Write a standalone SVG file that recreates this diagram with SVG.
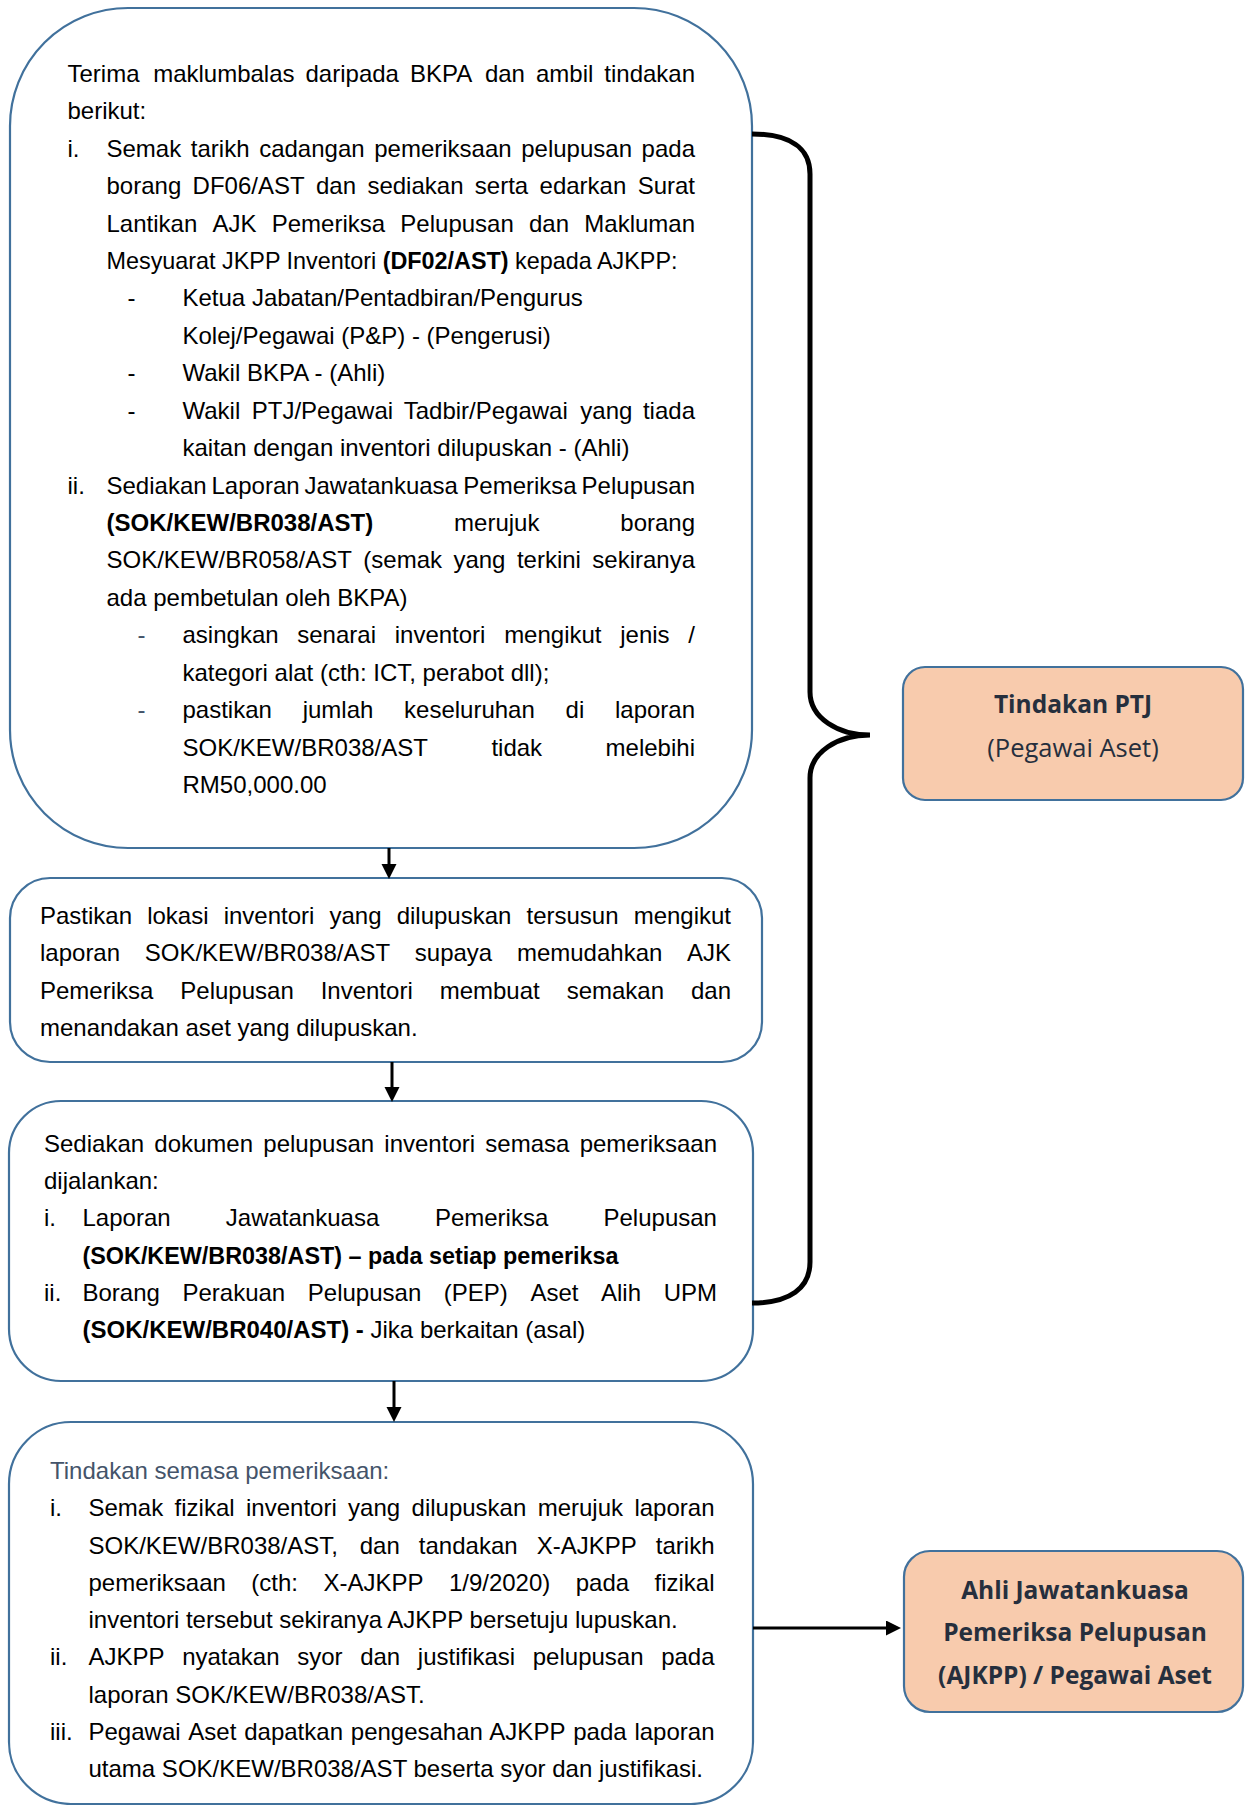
<svg xmlns="http://www.w3.org/2000/svg" width="1245" height="1805" viewBox="0 0 1245 1805">
<style>
.box{fill:#fff;stroke:#41719C;stroke-width:2.2}
.obox{fill:#F8CBAD;stroke:#41719C;stroke-width:2.2}
.t{font-family:"Liberation Sans",Arial,sans-serif;font-size:24px;fill:#000}
.b{font-weight:bold}
.sl{fill:#44546A}
.r{font-family:"Open Sans","Liberation Sans",sans-serif;font-size:25.5px;fill:#262F3D;text-anchor:middle}
.rb{font-family:"Open Sans","Liberation Sans",sans-serif;font-size:24.5px;font-weight:bold;fill:#262F3D;text-anchor:middle}
.con{stroke:#000;stroke-width:3;fill:none}
.brace{stroke:#000;stroke-width:5;fill:none}
</style>
<defs>
<marker id="ah" markerUnits="userSpaceOnUse" markerWidth="16" markerHeight="16" refX="7" refY="7.5" orient="auto"><path d="M0,0 L15,7.5 L0,15 z" fill="#000"/></marker>
</defs>

<g id="node-ptj-steps">
<rect class="box" x="10" y="8" width="742" height="840" rx="118" ry="118"/>
<text class="t" y="81.7"><tspan x="67.5">Terima</tspan><tspan x="153.16">maklumbalas</tspan><tspan x="305.52">daripada</tspan><tspan x="409.9">BKPA</tspan><tspan x="484.93">dan</tspan><tspan x="535.96">ambil</tspan><tspan x="604.3">tindakan</tspan></text>
<text class="t" x="67.5" y="119.1">berikut:</text>
<text class="t" y="156.6"><tspan x="67.5">i.</tspan><tspan x="106.5">Semak</tspan><tspan x="190.83">tarikh</tspan><tspan x="259.15">cadangan</tspan><tspan x="374.2">pemeriksaan</tspan><tspan x="521.22">pelupusan</tspan><tspan x="641.6">pada</tspan></text>
<text class="t" y="194"><tspan x="106.5">borang</tspan><tspan x="192.59">DF06/AST</tspan><tspan x="316">dan</tspan><tspan x="367.41">sediakan</tspan><tspan x="474.84">serta</tspan><tspan x="539.57">edarkan</tspan><tspan x="637.66">Surat</tspan></text>
<text class="t" y="231.5"><tspan x="106.5">Lantikan</tspan><tspan x="212.48">AJK</tspan><tspan x="271.76">Pemeriksa</tspan><tspan x="400.37">Pelupusan</tspan><tspan x="529.03">dan</tspan><tspan x="584.32">Makluman</tspan></text>
<text class="t" x="106.5" y="268.9" textLength="571" lengthAdjust="spacingAndGlyphs">Mesyuarat JKPP Inventori <tspan class="b">(DF02/AST)</tspan> kepada AJKPP:</text>
<text class="t" x="127.5" y="306.3">-</text>
<text class="t" x="182.5" y="306.3">Ketua Jabatan/Pentadbiran/Pengurus</text>
<text class="t" x="182.5" y="343.8">Kolej/Pegawai (P&amp;P) - (Pengerusi)</text>
<text class="t" x="127.5" y="381.2">-</text>
<text class="t" x="182.5" y="381.2">Wakil BKPA - (Ahli)</text>
<text class="t" x="127.5" y="418.7">-</text>
<text class="t" y="418.7"><tspan x="182.5">Wakil</tspan><tspan x="251.72">PTJ/Pegawai</tspan><tspan x="403.71">Tadbir/Pegawai</tspan><tspan x="580.37">yang</tspan><tspan x="642.96">tiada</tspan></text>
<text class="t" x="182.5" y="456.1">kaitan dengan inventori dilupuskan - (Ahli)</text>
<text class="t" y="493.5"><tspan x="67.5">ii.</tspan><tspan x="106.5">Sediakan</tspan><tspan x="211.5">Laporan</tspan><tspan x="304.5">Jawatankuasa</tspan><tspan x="463.33">Pemeriksa</tspan><tspan x="581.62">Pelupusan</tspan></text>
<text class="t" y="531"><tspan x="106.5" class="b">(SOK/KEW/BR038/AST)</tspan><tspan x="454.1">merujuk</tspan><tspan x="620.3">borang</tspan></text>
<text class="t" y="568.4"><tspan x="106.5">SOK/KEW/BR058/AST</tspan><tspan x="363.34">(semak</tspan><tspan x="453.43">yang</tspan><tspan x="516.88">terkini</tspan><tspan x="592.31">sekiranya</tspan></text>
<text class="t" x="106.5" y="605.9">ada pembetulan oleh BKPA)</text>
<text class="t sl" x="137.5" y="643.3">-</text>
<text class="t" y="643.3"><tspan x="182.5">asingkan</tspan><tspan x="297.28">senarai</tspan><tspan x="394.71">inventori</tspan><tspan x="504.14">mengikut</tspan><tspan x="620.24">jenis</tspan><tspan x="688.31">/</tspan></text>
<text class="t" x="182.5" y="680.7">kategori alat (cth: ICT, perabot dll);</text>
<text class="t sl" x="137.5" y="718.2">-</text>
<text class="t" y="718.2"><tspan x="182.5">pastikan</tspan><tspan x="302.63">jumlah</tspan><tspan x="404.06">keseluruhan</tspan><tspan x="565.54">di</tspan><tspan x="614.96">laporan</tspan></text>
<text class="t" y="755.6"><tspan x="182.5">SOK/KEW/BR038/AST</tspan><tspan x="491.4">tidak</tspan><tspan x="605.6">melebihi</tspan></text>
<text class="t" x="182.5" y="793.1">RM50,000.00</text>
</g>

<g id="node-lokasi">
<rect class="box" x="10" y="878" width="752" height="184" rx="40" ry="40"/>
<text class="t" y="924"><tspan x="40">Pastikan</tspan><tspan x="147.17">lokasi</tspan><tspan x="223.64">inventori</tspan><tspan x="329.47">yang</tspan><tspan x="396.63">dilupuskan</tspan><tspan x="526.48">tersusun</tspan><tspan x="633.65">mengikut</tspan></text>
<text class="t" y="961.3"><tspan x="40">laporan</tspan><tspan x="144.73">SOK/KEW/BR038/AST</tspan><tspan x="414.84">supaya</tspan><tspan x="516.91">memudahkan</tspan><tspan x="686.99">AJK</tspan></text>
<text class="t" y="998.6"><tspan x="40">Pemeriksa</tspan><tspan x="180.31">Pelupusan</tspan><tspan x="320.67">Inventori</tspan><tspan x="439.67">membuat</tspan><tspan x="566.66">semakan</tspan><tspan x="690.99">dan</tspan></text>
<text class="t" x="40" y="1036">menandakan aset yang dilupuskan.</text>
</g>

<g id="node-dokumen">
<rect class="box" x="9" y="1101" width="744" height="280" rx="52" ry="52"/>
<text class="t" y="1152"><tspan x="44">Sediakan</tspan><tspan x="154.34">dokumen</tspan><tspan x="263.33">pelupusan</tspan><tspan x="384.35">inventori</tspan><tspan x="485.33">semasa</tspan><tspan x="579.63">pemeriksaan</tspan></text>
<text class="t" x="44" y="1189">dijalankan:</text>
<text class="t" y="1226"><tspan x="44">i.</tspan><tspan x="82.5">Laporan</tspan><tspan x="225.8">Jawatankuasa</tspan><tspan x="434.9">Pemeriksa</tspan><tspan x="603.5">Pelupusan</tspan></text>
<text class="t b" x="82.5" y="1264" textLength="536" lengthAdjust="spacingAndGlyphs">(SOK/KEW/BR038/AST) – pada setiap pemeriksa</text>
<text class="t" y="1301"><tspan x="44">ii.</tspan><tspan x="82.5">Borang</tspan><tspan x="182.48">Perakuan</tspan><tspan x="307.8">Pelupusan</tspan><tspan x="443.8">(PEP)</tspan><tspan x="530.41">Aset</tspan><tspan x="601.03">Alih</tspan><tspan x="663.64">UPM</tspan></text>
<text class="t" x="82.5" y="1338"><tspan class="b">(SOK/KEW/BR040/AST) -</tspan> Jika berkaitan (asal)</text>
</g>

<g id="node-semasa">
<rect class="box" x="9" y="1422" width="744" height="382" rx="62" ry="62"/>
<text class="t sl" x="50" y="1479">Tindakan semasa pemeriksaan:</text>
<text class="t" y="1516"><tspan x="50">i.</tspan><tspan x="88.5">Semak</tspan><tspan x="174.6">fizikal</tspan><tspan x="246.01">inventori</tspan><tspan x="348.12">yang</tspan><tspan x="411.56">dilupuskan</tspan><tspan x="537.69">merujuk</tspan><tspan x="634.44">laporan</tspan></text>
<text class="t" y="1554"><tspan x="88.5">SOK/KEW/BR038/AST,</tspan><tspan x="359.7">dan</tspan><tspan x="418.83">tandakan</tspan><tspan x="536.67">X-AJKPP</tspan><tspan x="655.8">tarikh</tspan></text>
<text class="t" y="1591"><tspan x="88.5">pemeriksaan</tspan><tspan x="251.31">(cth:</tspan><tspan x="323.42">X-AJKPP</tspan><tspan x="448.88">1/9/2020)</tspan><tspan x="575.71">pada</tspan><tspan x="654.52">fizikal</tspan></text>
<text class="t" x="88.5" y="1628">inventori tersebut sekiranya AJKPP bersetuju lupuskan.</text>
<text class="t" y="1665"><tspan x="50">ii.</tspan><tspan x="88.5">AJKPP</tspan><tspan x="182.16">nyatakan</tspan><tspan x="297.18">syor</tspan><tspan x="360.15">dan</tspan><tspan x="417.81">justifikasi</tspan><tspan x="532.78">pelupusan</tspan><tspan x="661.15">pada</tspan></text>
<text class="t" x="88.5" y="1703">laporan SOK/KEW/BR038/AST.</text>
<text class="t" y="1740"><tspan x="50">iii.</tspan><tspan x="88.5">Pegawai</tspan><tspan x="188.37">Aset</tspan><tspan x="244.22">dapatkan</tspan><tspan x="350.79">pengesahan</tspan><tspan x="489.37">AJKPP</tspan><tspan x="573.23">pada</tspan><tspan x="634.44">laporan</tspan></text>
<text class="t" x="88.5" y="1777">utama SOK/KEW/BR038/AST beserta syor dan justifikasi.</text>
</g>

<g id="node-tindakan-ptj">
<rect class="obox" x="903" y="667" width="340" height="133" rx="22" ry="22"/>
<text class="rb" x="1073" y="713">Tindakan PTJ</text>
<text class="r" x="1073" y="757">(Pegawai Aset)</text>
</g>

<g id="node-ajkpp">
<rect class="obox" x="904" y="1551" width="339" height="161" rx="26" ry="26"/>
<text class="rb" x="1075" y="1599">Ahli Jawatankuasa</text>
<text class="rb" x="1075" y="1641">Pemeriksa Pelupusan</text>
<text class="rb" x="1075" y="1684">(AJKPP) / Pegawai Aset</text>
</g>

<g id="connectors">
<line class="con" x1="389" y1="848" x2="389" y2="871" marker-end="url(#ah)"/>
<line class="con" x1="392" y1="1062" x2="392" y2="1094" marker-end="url(#ah)"/>
<line class="con" x1="394" y1="1381" x2="394" y2="1414" marker-end="url(#ah)"/>
<line class="con" x1="753" y1="1628" x2="893" y2="1628" marker-end="url(#ah)"/>
<path class="brace" d="M752,134 C790,134 810,148 810,174 L810,692 C810,718 838,735 870,735 C838,735 810,752 810,778 L810,1262 C810,1288 790,1303 752,1303"/>
</g>
</svg>
